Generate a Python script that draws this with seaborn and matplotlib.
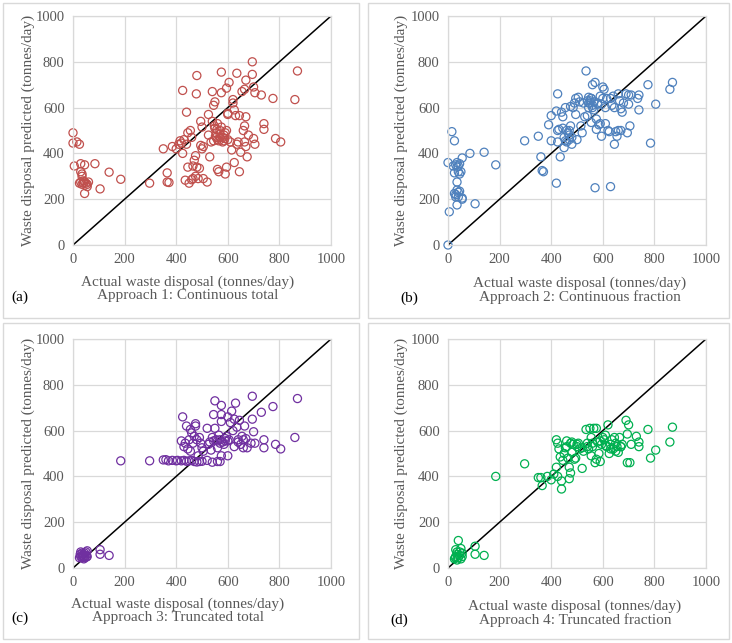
import matplotlib.pyplot as plt
import seaborn as sns
from matplotlib.patches import Rectangle

# approach 1: continuous total
actual_a = [0, 0, 15, 25, 5, 30, 45, 85, 140, 185, 105, 45, 30, 35, 25, 30, 35, 40, 45, 50, 55, 60, 40, 55, 35,
            297, 350, 365, 365, 372, 385, 400, 410, 415, 420, 425, 425, 430, 440, 440, 435, 445, 445, 450, 455,
            460, 460, 465, 465, 470, 475, 475, 478, 480, 480, 485, 490, 495, 495, 500, 500, 505, 505, 520, 525,
            525, 530, 535, 540, 545, 550, 550, 555, 555, 560, 560, 560, 565, 570, 570, 575, 575, 580, 585, 590,
            590, 595, 595, 600, 600, 600, 605, 610, 615, 620, 620, 625, 625, 630, 635, 635, 640, 645, 645, 650,
            655, 660, 665, 665, 665, 670, 670, 670, 675, 680, 695, 695, 700, 700, 705, 705, 730, 740, 740, 775,
            785, 805, 860, 870, 548, 552, 558, 565, 575, 580, 588, 595, 540, 545, 570, 585]
pred_a = [490, 445, 450, 440, 345, 355, 350, 355, 318, 287, 245, 225, 320, 310, 270, 275, 265, 270, 275, 270, 265, 275, 280, 255, 300,
          270, 420, 315, 275, 273, 430, 420, 440, 455, 445, 400, 675, 460, 440, 580, 283, 340, 490, 270, 500,
          470, 285, 290, 345, 370, 300, 390, 660, 740, 340, 290, 335, 540, 435, 515, 420, 290, 430, 275, 570,
          480, 385, 450, 670, 610, 625, 510, 490, 470, 460, 530, 330, 320, 500, 470, 755, 665, 450, 480, 490,
          310, 340, 685, 460, 575, 570, 710, 450, 415, 620, 635, 590, 360, 565, 750, 440, 450, 565, 320, 405,
          670, 500, 680, 520, 450, 720, 560, 430, 385, 480, 800, 745, 690, 465, 440, 665, 655, 530, 505, 640,
          465, 450, 635, 760, 520, 475, 505, 455, 515, 470, 465, 500, 540, 455, 485, 455]

# approach 2: continuous fraction
actual_b = [0, 5, 0, 15, 25, 20, 30, 25, 35, 35, 40, 45, 40, 45, 50, 55, 35, 25, 30, 35, 40, 45, 30, 40, 35, 55, 55,
            85, 105, 140, 185, 297, 350, 360, 365, 370, 390, 400, 400, 420, 420, 425, 425, 425, 430, 435, 440,
            445, 445, 450, 450, 455, 455, 460, 465, 470, 470, 475, 475, 480, 480, 485, 490, 495, 495, 500, 505,
            510, 515, 520, 525, 530, 535, 540, 540, 545, 545, 550, 550, 555, 555, 560, 560, 565, 565, 570, 570,
            575, 575, 580, 585, 590, 590, 595, 595, 600, 600, 605, 610, 610, 615, 620, 625, 630, 630, 635, 640,
            645, 645, 650, 655, 660, 660, 665, 670, 670, 675, 680, 690, 695, 700, 700, 705, 710, 735, 740, 740,
            775, 785, 805, 860, 870, 460, 470, 545, 555, 560, 580]
pred_b = [0, 145, 360, 495, 455, 345, 350, 315, 340, 360, 345, 355, 320, 310, 320, 380, 275, 225, 220, 240, 230, 235, 210, 210, 175, 205, 200,
          400, 180, 405, 350, 455, 475, 385, 325, 320, 525, 565, 455, 270, 585, 660, 500, 450, 505, 385, 580,
          560, 510, 470, 425, 600, 455, 500, 490, 480, 460, 605, 520, 440, 470, 600, 620, 640, 570, 460, 645,
          625, 520, 490, 620, 560, 760, 630, 565, 600, 645, 630, 620, 535, 640, 700, 610, 625, 590, 710, 250,
          550, 505, 620, 525, 650, 530, 475, 615, 690, 640, 680, 600, 530, 640, 500, 495, 255, 640, 610, 650,
          600, 440, 495, 475, 500, 660, 630, 595, 500, 580, 620, 660, 490, 655, 615, 520, 655, 640, 590, 655,
          700, 445, 615, 680, 710, 450, 500, 620, 640, 600, 615]

# approach 3: truncated total
actual_c = [25, 30, 30, 35, 35, 40, 40, 45, 45, 50, 50, 55, 55, 35, 28, 42, 52, 105, 105, 140,
            185, 297, 350, 360, 370, 385, 400, 405, 420, 430, 440, 450, 460, 470, 480, 490, 500, 520, 540, 560,
            570, 575, 420, 425, 430, 435, 440, 445, 450, 455, 455, 460, 465, 470, 475, 475, 480, 485, 490, 495,
            500, 505, 520, 525, 530, 535, 540, 545, 545, 550, 550, 555, 560, 565, 570, 575, 575, 575, 580, 585,
            590, 595, 600, 600, 605, 610, 615, 620, 625, 625, 630, 635, 640, 645, 650, 655, 660, 665, 670, 675,
            690, 695, 695, 700, 705, 730, 740, 740, 775, 785, 805, 860, 870, 560, 570, 590, 600, 640, 660]
pred_c = [45, 50, 70, 55, 45, 60, 50, 65, 45, 55, 70, 75, 50, 65, 60, 40, 48, 80, 60, 55,
          468, 468, 472, 473, 468, 470, 468, 470, 468, 470, 466, 468, 470, 465, 463, 465, 466, 470, 462, 465,
          465, 490, 555, 660, 530, 545, 620, 520, 560, 510, 605, 590, 545, 575, 630, 620, 560, 490, 570, 545,
          525, 510, 610, 540, 550, 515, 570, 670, 555, 730, 610, 560, 525, 580, 560, 710, 670, 640, 550, 540,
          555, 575, 660, 490, 560, 635, 685, 600, 650, 530, 720, 615, 560, 645, 540, 575, 525, 620, 565, 525,
          545, 750, 650, 595, 545, 680, 560, 525, 705, 540, 520, 570, 740, 555, 545, 565, 555, 550, 560]

# approach 4: truncated fraction
actual_d = [25, 30, 30, 35, 35, 40, 40, 45, 45, 50, 50, 55, 55, 35, 28, 105, 105, 140,
            185, 297, 350, 360, 365, 385, 400, 410, 420, 420, 425, 425, 430, 435, 440, 440, 445, 450, 455, 460,
            465, 470, 470, 475, 475, 480, 485, 490, 495, 500, 505, 510, 520, 525, 535, 540, 545, 550, 555, 555,
            560, 565, 570, 575, 575, 580, 585, 590, 595, 600, 605, 610, 615, 620, 625, 630, 635, 640, 645, 650,
            655, 660, 665, 670, 675, 690, 695, 695, 700, 705, 710, 730, 740, 740, 775, 785, 805, 860, 870,
            460, 480, 500, 520, 540, 560, 590, 610, 630, 650, 670]
pred_d = [40, 50, 80, 60, 35, 120, 45, 70, 55, 85, 40, 65, 50, 70, 45, 95, 60, 55,
          400, 455, 395, 395, 360, 400, 385, 410, 440, 560, 545, 400, 520, 485, 345, 380, 470, 500, 525, 555,
          480, 390, 440, 545, 415, 505, 540, 475, 480, 530, 545, 520, 435, 510, 605, 545, 520, 610, 490, 570,
          530, 610, 460, 475, 610, 550, 500, 465, 540, 570, 560, 580, 530, 625, 500, 540, 560, 520, 570, 510,
          530, 505, 570, 530, 540, 645, 460, 585, 625, 460, 540, 575, 550, 530, 605, 480, 515, 550, 615,
          530, 550, 540, 525, 530, 545, 555, 535, 520, 545, 530]

panels = [
    (actual_a, pred_a, "#C0504D", "(a)", "Approach 1: Continuous total"),
    (actual_b, pred_b, "#4F81BD", "(b)", "Approach 2: Continuous fraction"),
    (actual_c, pred_c, "#7030A0", "(c)", "Approach 3: Truncated total"),
    (actual_d, pred_d, "#00B050", "(d)", "Approach 4: Truncated fraction"),
]

sns.set_theme(style="whitegrid")
plt.rcParams['font.family'] = ['Liberation Serif', 'DejaVu Serif']
text_col = "#595959"
grid_col = "#D9D9D9"

W, H = 732, 643
fig = plt.figure(figsize=(W / 100, H / 100), dpi=100)
fig.patch.set_facecolor("white")

# pixel layout (left, top) of each plot area, and where the captions sit
axes_px = [(73, 16), (448, 16), (73, 339), (448, 339)]
box_px = [(3, 3, 359, 318), (368, 3, 729, 318), (3, 323, 359, 639), (368, 323, 729, 639)]
label_x = [188, 580, 178, 575]
label_y = [289, 290, 611, 613]
tag_px = [(20, 297), (409, 298), (20, 618), (399, 620)]
ylab_x = [28, 401, 28, 401]
aw, ah = 258, 229

for i, (xs, ys, col, tag, title) in enumerate(panels):
    x0, y0, x1, y1 = box_px[i]
    fig.add_artist(Rectangle((x0 / W, 1 - y1 / H), (x1 - x0) / W, (y1 - y0) / H,
                             transform=fig.transFigure, fill=False,
                             edgecolor=grid_col, linewidth=1))

    l, t = axes_px[i]
    ax = fig.add_axes([l / W, 1 - (t + ah) / H, aw / W, ah / H])
    ax.set_facecolor("white")
    ax.plot([0, 1000], [0, 1000], color="black", linewidth=1.1, zorder=1)
    sns.scatterplot(x=xs, y=ys, ax=ax, marker="o", s=34, facecolor="none",
                    edgecolor=col, linewidth=0.9, zorder=2, clip_on=False)
    ax.set_xlim(0, 1000)
    ax.set_ylim(0, 1000)
    ax.set_xticks(range(0, 1001, 200))
    ax.set_yticks(range(0, 1001, 200))
    ax.grid(True, color=grid_col, linewidth=0.9)
    for sp in ax.spines.values():
        sp.set_color(grid_col)
        sp.set_linewidth(0.9)
    ax.tick_params(length=0, labelsize=10.5, labelcolor=text_col, pad=6)
    ax.set_xlabel("")
    ax.set_ylabel("")

    fig.text(label_x[i] / W, 1 - label_y[i] / H, "Actual waste disposal (tonnes/day)\n" + title,
             ha="center", va="center", fontsize=11, color=text_col, linespacing=0.98)
    fig.text(ylab_x[i] / W, 1 - (t + ah / 2) / H, "Waste disposal predicted (tonnes/day)",
             ha="center", va="center", rotation=90, fontsize=11, color=text_col)
    fig.text(tag_px[i][0] / W, 1 - tag_px[i][1] / H, tag, ha="center", va="center",
             fontsize=11, color="black")

fig.savefig("out.png", dpi=100, facecolor="white")
